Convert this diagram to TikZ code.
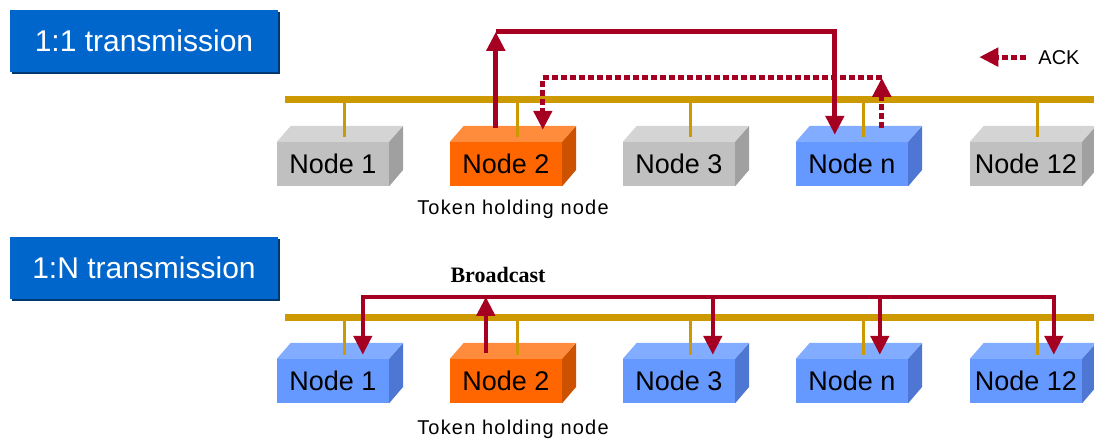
\documentclass[tikz,border=0pt]{standalone}
\usepackage{fontspec}
\setmainfont{Liberation Sans}
\newfontfamily\bcfont{Liberation Serif}
\usetikzlibrary{arrows.meta,calc,shadows}
\definecolor{ttlblue}{RGB}{0,102,204}
\definecolor{busgold}{RGB}{204,153,0}
\definecolor{ackred}{RGB}{165,0,33}
\definecolor{gryF}{RGB}{192,192,192}
\definecolor{gryT}{RGB}{212,212,212}
\definecolor{gryS}{RGB}{160,160,160}
\definecolor{orgF}{RGB}{255,102,0}
\definecolor{orgT}{RGB}{255,140,60}
\definecolor{orgS}{RGB}{204,82,0}
\definecolor{bluF}{RGB}{102,153,255}
\definecolor{bluT}{RGB}{130,172,255}
\definecolor{bluS}{RGB}{77,119,210}

\begin{document}
\begin{tikzpicture}[x=1pt,y=-1pt,>={Triangle[length=19pt,width=18pt]},
  ttlbox/.style={fill=ttlblue,text=white,font=\fontsize{30}{36}\selectfont,
    minimum width=268pt,minimum height=62pt,inner sep=0pt,
    drop shadow={shadow xshift=2pt,shadow yshift=-2pt,fill=ttlblue!55!black,opacity=1}},
  boxfront/.style={minimum width=112pt,minimum height=44pt,inner sep=0pt,
    font=\fontsize{27}{31}\selectfont},
  busline/.style={line width=7pt,busgold},
  busdrop/.style={line width=3pt,busgold},
  tokmsg/.style={line width=5pt,ackred},
  ackmsg/.style={tokmsg,dash pattern=on 6pt off 3pt},
  bcmsg/.style={line width=4.5pt,ackred},
  txtlbl/.style={inner sep=0pt,anchor=base,font=\fontsize{20}{24}\selectfont}]
  \useasboundingbox (0,0) rectangle (1094,439);

  % titles
  \node[ttlbox] (t1) at (144,41) {1:1 transmission};
  \node[ttlbox] (t2) at (144,267.5) {1:N transmission};

  % buses
  \draw[busline] (285,99) -- (1094,99);
  \draw[busline] (285,317) -- (1094,317);

  % 1:1 row
  \foreach \x/\txt/\col [count=\i] in {277/Node 1/gry,450/Node 2/org,623/Node 3/gry,796/Node n/blu,970/Node 12/gry}{
    \node[boxfront,fill=\col F] (a\i) at (\x+56,164) {\txt};
    \fill[\col T] (a\i.north west) -- ++(14,-16) -- ++(112,0) -- (a\i.north east) -- cycle;
    \fill[\col S] (a\i.north east) -- ++(14,-16) -- ++(0,44) -- (a\i.south east) -- cycle;
    \draw[busdrop] (\x+67,99) -- (\x+67,137);
  }
  % 1:N row
  \foreach \x/\txt/\col [count=\i] in {277/Node 1/blu,450/Node 2/org,623/Node 3/blu,796/Node n/blu,970/Node 12/blu}{
    \node[boxfront,fill=\col F] (b\i) at (\x+56,381) {\txt};
    \fill[\col T] (b\i.north west) -- ++(14,-16) -- ++(112,0) -- (b\i.north east) -- cycle;
    \fill[\col S] (b\i.north east) -- ++(14,-16) -- ++(0,44) -- (b\i.south east) -- cycle;
    \draw[busdrop] (\x+67,317) -- (\x+67,355);
  }

  % token and ack
  \coordinate (up) at ($(a2.north west)+(46,-110)$);
  \draw[tokmsg,->] ($(a2.north west)+(46,-14)$) -- (up);
  \draw[tokmsg,->] (up) -| ($(a4.north west)+(39,-7)$);
  \coordinate (ak) at ($(a4.north west)+(86,-64)$);
  \draw[ackmsg,->] ($(a4.north west)+(86,-14)$) -- (ak);
  \draw[ackmsg,->] (ak) -| ($(a2.north west)+(93,-12)$);

  % broadcast
  \coordinate (bl) at ($(b1.north west)+(86,-62)$);
  \coordinate (br) at ($(b5.north west)+(84,-62)$);
  \draw[bcmsg,->] (br) -- (bl) -- ($(b1.north west)+(86,-4)$);
  \draw[bcmsg,->] (bl) -| ($(b5.north west)+(84,-4)$);
  \draw[bcmsg,->] ($(b3.north west)+(90,-62)$) -- ++(0,58);
  \draw[bcmsg,->] ($(b4.north west)+(84,-62)$) -- ++(0,58);
  \draw[bcmsg,->] ($(b2.north west)+(36,-6)$) -- ($(b2.north west)+(36,-62)$);

  % labels
  \node[txtlbl,font=\fontsize{20}{24}\selectfont\addfontfeatures{LetterSpace=6}] (tok1) at (513,214) {Token holding node};
  \node[txtlbl,font=\fontsize{20}{24}\selectfont\addfontfeatures{LetterSpace=6}] (tok2) at (513,434) {Token holding node};
  \node[txtlbl,font=\bcfont\bfseries\fontsize{22}{26}\selectfont] (bc) at (498,282) {Broadcast};
  \node[txtlbl] (ack) at (1059,64) {ACK};
  \draw[ackmsg,->] ($(ack.west)+(-12,0)$) -- ++(-47,0);
\end{tikzpicture}
\end{document}
